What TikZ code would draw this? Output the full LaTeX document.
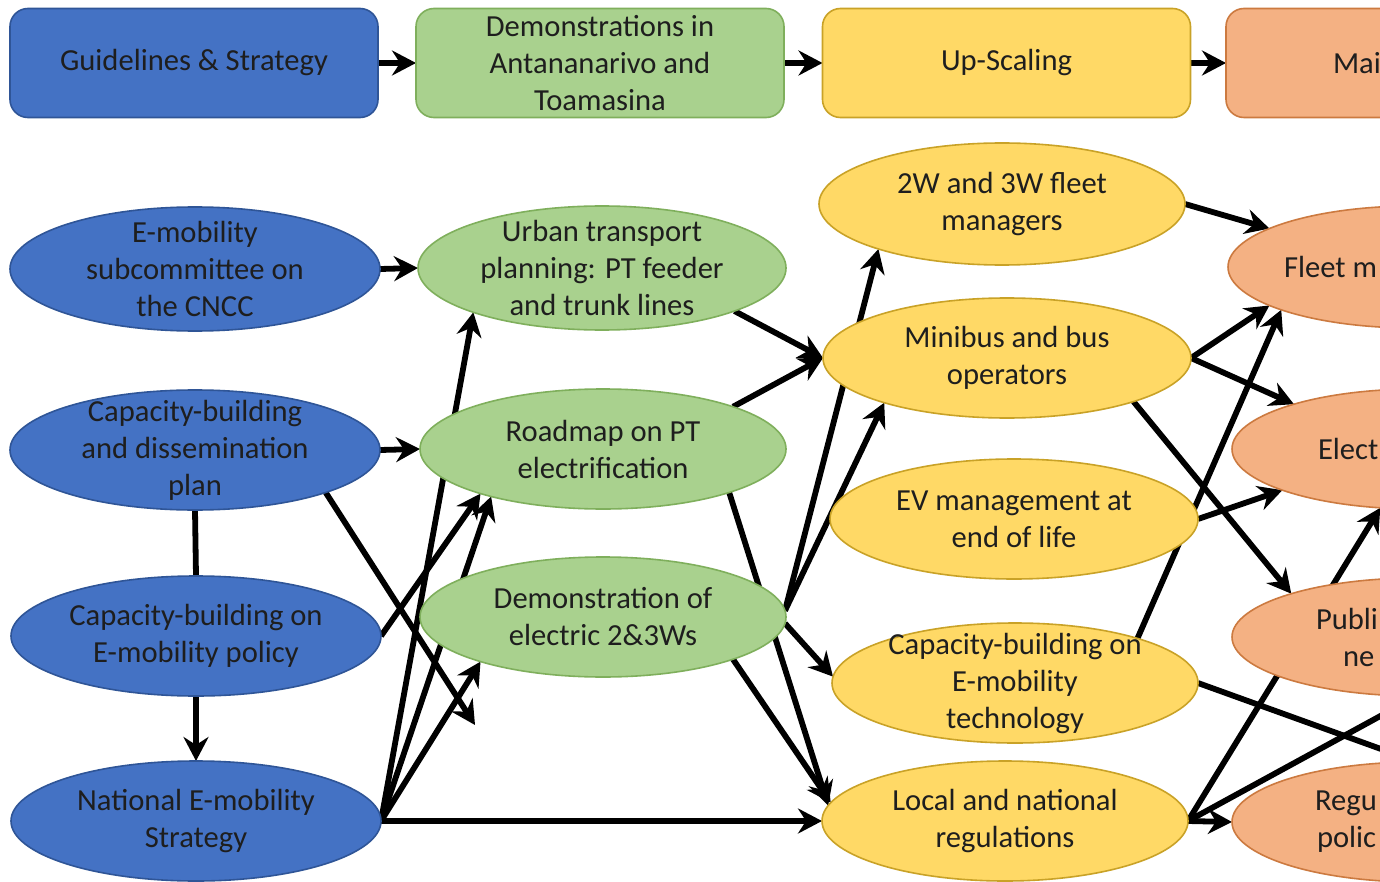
\documentclass[tikz,border=0pt]{standalone}
\usepackage{fontspec}
\setmainfont{Carlito}
\usetikzlibrary{shapes.geometric,arrows.meta}
\pgfdeclarelayer{background}
\pgfsetlayers{background,main}

\definecolor{txt}{HTML}{1E1E1E}
\definecolor{blueF}{HTML}{4472C4}
\definecolor{blueD}{HTML}{2F5597}
\definecolor{greenF}{HTML}{A9D18E}
\definecolor{greenD}{HTML}{7FAF5C}
\definecolor{yellowF}{HTML}{FFD966}
\definecolor{yellowD}{HTML}{C9A227}
\definecolor{orangeF}{HTML}{F4B183}
\definecolor{orangeD}{HTML}{CC7A40}

% a line of text set flush left inside a box of given width
\newcommand{\flushin}[2]{\makebox[#1][l]{#2}}

\begin{document}
\begin{tikzpicture}[x=0.5pt,y=-0.5pt,
  every node/.style={font=\fontsize{15.3pt}{18.5pt}\selectfont, text=txt, align=center},
  stagebox/.style={rectangle, rounded corners=9pt, minimum width=184pt,
    minimum height=54.5pt, inner sep=0pt, outer sep=0pt, line width=0.8pt},
  oval/.style={ellipse, minimum width=184pt, minimum height=60pt,
    inner sep=-30pt, outer sep=0pt, line width=0.8pt},
  tall/.style={minimum height=62pt},
  bluec/.style={fill=blueF, draw=blueD},
  greenc/.style={fill=greenF, draw=greenD},
  yellowc/.style={fill=yellowF, draw=yellowD},
  orangec/.style={fill=orangeF, draw=orangeD},
  link/.style={line width=2.9pt, -{Stealth[length=12pt,width=12.5pt,inset=4pt]}},
  tie/.style={line width=2.9pt}]

\useasboundingbox (0,0) rectangle (1380,882);
\clip (0,0) rectangle (1380,882);

% phase headers
\node[stagebox, bluec]   (B1) at (194,63)   {Guidelines \& Strategy};
\node[stagebox, greenc]  (B2) at (600,63)   {Demonstrations in\\Antananarivo and\\Toamasina};
\node[stagebox, yellowc] (B3) at (1006.5,63) {Up-Scaling};
\node[stagebox, orangec] (B4) at (1410,63)  {\flushin{77pt}{Mai}};

% guidelines & strategy
\node[oval, tall, bluec, minimum width=185pt] (E1) at (195,269) {E-mobility\\subcommittee on\\the CNCC};
\node[oval, bluec, minimum width=185pt] (E2) at (195,450) {Capacity-building\\and dissemination\\plan};
\node[oval, bluec, minimum width=185pt] (E3) at (196,636) {Capacity-building on\\E-mobility policy};
\node[oval, bluec, minimum width=185pt] (E4) at (196,821) {National E-mobility\\Strategy};

% demonstrations
\node[oval, tall, greenc] (G1) at (602,268) {Urban transport\\planning: PT feeder\\and trunk lines};
\node[oval, greenc, minimum width=183pt] (G2) at (603,449) {Roadmap on PT\\electrification};
\node[oval, greenc, minimum width=183pt] (G3) at (603,617) {Demonstration of\\electric 2\&3Ws};

% up-scaling
\node[oval, yellowc, minimum width=183pt, minimum height=61pt] (Y1) at (1002,204) {2W and 3W fleet\\managers};
\node[oval, yellowc] (Y2) at (1007,358) {Minibus and bus\\operators};
\node[oval, yellowc] (Y3) at (1014,519) {EV management at\\end of life};
\node[oval, yellowc, minimum width=183pt] (Y4) at (1015,683) {Capacity-building on\\E-mobility\\technology};
\node[oval, yellowc, minimum width=183pt] (Y5) at (1005,821) {Local and national\\regulations};

% mainstreaming
\node[oval, orangec, minimum width=185pt, minimum height=61pt] (O1) at (1413,267) {\flushin{129pt}{Fleet m}};
\node[oval, orangec, minimum width=185pt] (O2) at (1417,449) {\flushin{99pt}{Elect}};
\node[oval, orangec, minimum width=185pt, minimum height=59pt] (O3) at (1417,637) {\flushin{101pt}{Publi}\\\flushin{74pt}{ne}};
\node[oval, orangec, minimum width=185pt] (O4) at (1417,822) {\flushin{102pt}{Regu}\\\flushin{100pt}{polic}};

\coordinate (loose) at (475,725);

\begin{pgfonlayer}{background}
  \fill[white] (0,0) rectangle (1380,882);
  \clip (0,0) rectangle (1380,882);
  % phase sequence
  \draw[link] (B1.east) -- (B2.west);
  \draw[link] (B2.east) -- (B3.west);
  \draw[link] (B3.east) -- (B4.west);
  % from guidelines & strategy
  \draw[link] (E1.east) -- (G1.west);
  \draw[link] (E2.east) -- (G2.west);
  \draw[tie]  (E2.south) -- (E3.north);
  \draw[link] (E3.south) -- (E4.north);
  \draw[link] (E2.-18) -- (loose);
  \draw[link] (E3.east) -- (G2.-160);
  \draw[link] (E4.east) -- (G1.-161);
  \draw[link] (E4.east) -- (G2.-157);
  \draw[link] (E4.east) -- (G3.-160);
  \draw[link] (E4.east) -- (Y5.west);
  % from demonstrations
  \draw[link] (G1.-18) -- (Y2.west);
  \draw[link] (G2.18) -- (Y2.west);
  \draw[link] (G2.-19) -- (Y5.175);
  \draw[link] (G3.-18) -- (Y5.174);
  \draw[link] (G3.2) -- (Y1.-160);
  \draw[link] (G3.2) -- (Y2.-160);
  \draw[link] (G3.-2) -- (Y4.178);
  % from up-scaling
  \draw[link] (Y1.east) -- (O1.165);
  \draw[link] (Y2.east) -- (O1.-165);
  \draw[link] (Y2.east) -- (O2.160);
  \draw[link] (Y2.-19) -- (O3.161);
  \draw[link] (Y3.east) -- (O2.-163);
  \draw[link] (Y4.20) -- (O1.-162);
  \draw[link] (Y4.east) -- (O4.north);
  \draw[link] (Y5.east) -- (O4.west);
  \draw[link] (Y5.east) -- (O3.south);
  \draw[link] (Y5.east) -- (O2.-122);
\end{pgfonlayer}
\end{tikzpicture}
\end{document}
